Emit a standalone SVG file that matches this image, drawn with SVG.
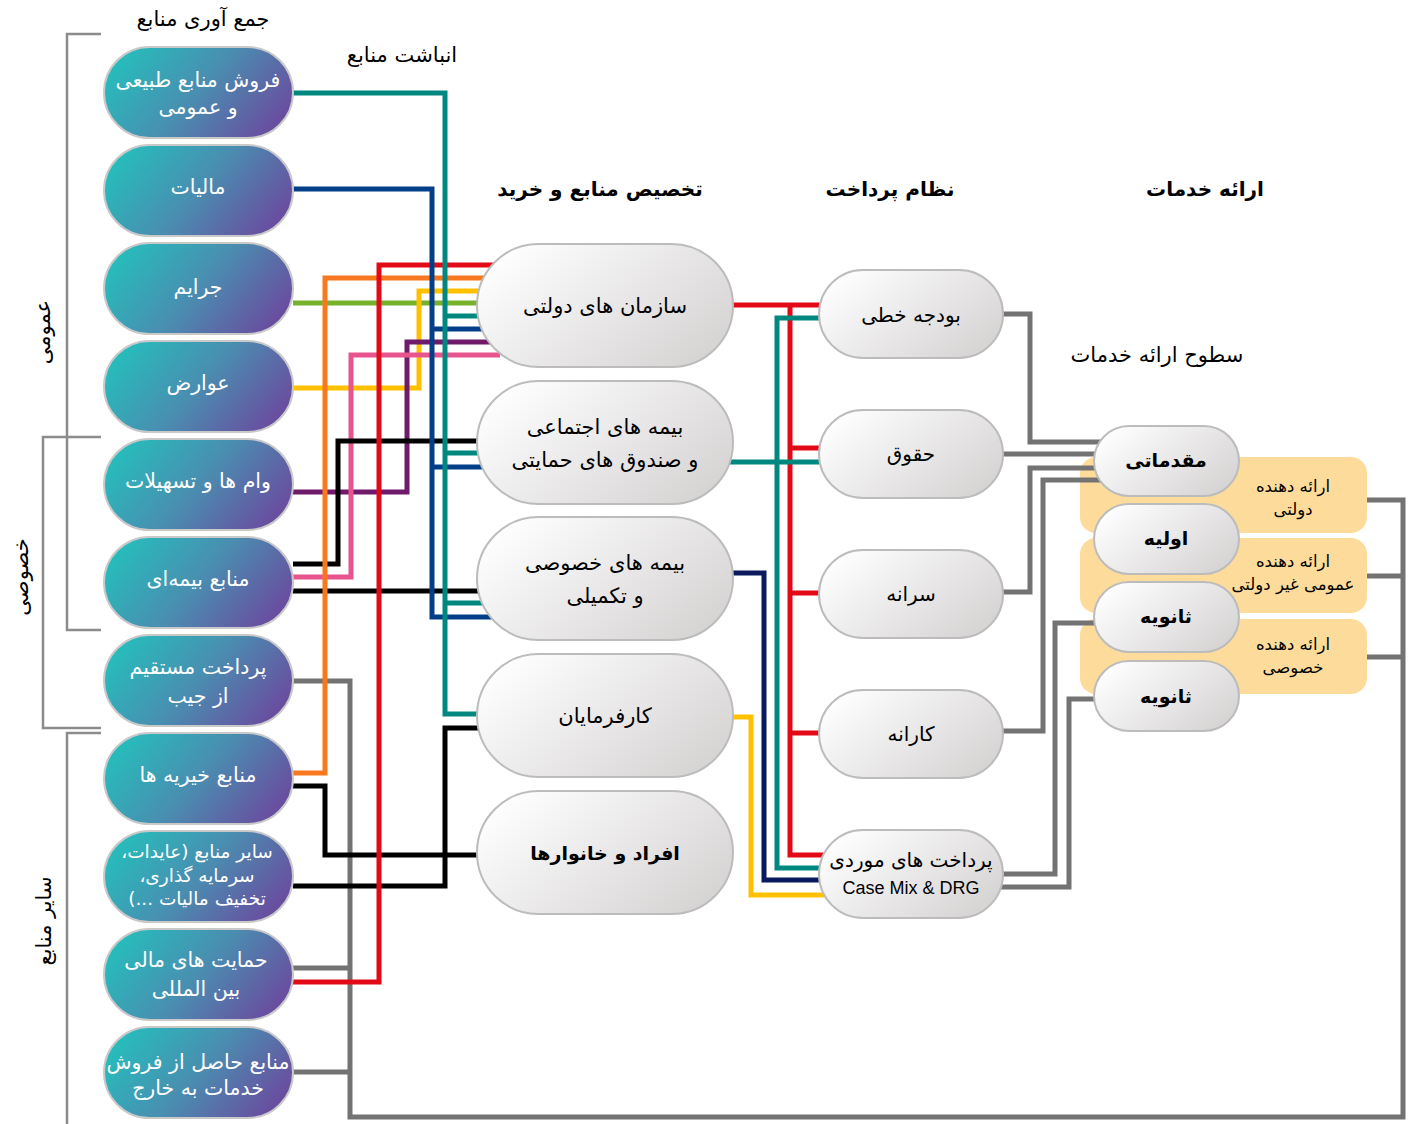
<svg xmlns="http://www.w3.org/2000/svg" width="1411" height="1124" viewBox="0 0 1411 1124">
<defs>
<linearGradient id="gSrc" x1="0" y1="0.3" x2="1" y2="0.7">
<stop offset="0" stop-color="#26bdbc"/>
<stop offset="0.5" stop-color="#4a8db0"/>
<stop offset="1" stop-color="#6b4a9f"/>
</linearGradient>
<linearGradient id="gGrey" x1="0" y1="0.2" x2="1" y2="0.8">
<stop offset="0" stop-color="#ffffff"/>
<stop offset="1" stop-color="#d5d2d2"/>
</linearGradient>
<style>
.src rect{fill:url(#gSrc);stroke:#c9c9c9;stroke-width:2}
.gn rect{fill:url(#gGrey);stroke:#bcbcbc;stroke-width:2}
.yb rect{fill:#fddc9b}
.fa{font-family:"DejaVu Sans","Noto Sans",sans-serif;direction:rtl;text-anchor:middle}
.w{fill:#ffffff;font-size:20.5px}
.ws{fill:#ffffff;font-size:18.5px}
.b{fill:#000000;font-size:21px}
.bb{fill:#000000;font-size:19px;font-weight:bold}
.bp{fill:#000000;font-size:20px}
.hd{fill:#000000;font-size:20px;font-weight:bold}
.ti{fill:#000000;font-size:21px}
.sm{fill:#000000;font-size:16.5px}
.lv{fill:#000000;font-size:19px;font-weight:bold}
.en{font-family:"Liberation Sans",Arial,sans-serif;font-size:18px;fill:#000;text-anchor:middle}
.br{fill:none;stroke:#8c8c8c;stroke-width:2.5}
.c{fill:none;stroke-width:5;stroke-linejoin:miter;stroke-linecap:butt}
.teal{stroke:#00877f}.blue{stroke:#023f88}.green{stroke:#76b22b}.yel{stroke:#ffc000}
.pur{stroke:#6f1a6a}.pink{stroke:#e8558e}.blk{stroke:#000000}.org{stroke:#f7781f}
.red{stroke:#e30a17}.navy{stroke:#0b1a5e}.gry{stroke:#737373}
</style>
</defs>

<!-- titles and brackets -->
<g id="titles">
<text class="fa ti" x="203" y="26">جمع آوری منابع</text>
<text class="fa ti" x="402" y="62">انباشت منابع</text>
<text class="fa hd" x="600" y="196">تخصیص منابع و خرید</text>
<text class="fa hd" x="890" y="196">نظام پرداخت</text>
<text class="fa hd" x="1205" y="196">ارائه خدمات</text>
<text class="fa ti" x="1157" y="362">سطوح ارائه خدمات</text>
<path class="br" d="M101,34 H67 V630 H101"/>
<path class="br" d="M101,437 H43 V728 H101"/>
<path class="br" d="M101,733 H67 V1124"/>
<text class="fa ti" transform="translate(50,332) rotate(-90)">عمومی</text>
<text class="fa ti" transform="translate(28,577) rotate(-90)">خصوصی</text>
<text class="fa ti" transform="translate(51,921) rotate(-90)">سایر منابع</text>
</g>

<!-- provider boxes -->
<g id="prov-gov" class="yb"><rect x="1080" y="457" width="287" height="76" rx="16"/>
<text class="fa sm" x="1293" y="492">ارائه دهنده</text><text class="fa sm" x="1293" y="515">دولتی</text></g>
<g id="prov-public" class="yb"><rect x="1080" y="538" width="287" height="75" rx="16"/>
<text class="fa sm" x="1293" y="567">ارائه دهنده</text><text class="fa sm" x="1293" y="590">عمومی غیر دولتی</text></g>
<g id="prov-private" class="yb"><rect x="1080" y="619" width="287" height="75" rx="16"/>
<text class="fa sm" x="1293" y="650">ارائه دهنده</text><text class="fa sm" x="1293" y="673">خصوصی</text></g>

<!-- connectors -->
<g id="connectors">
<path class="c gry" d="M293,681 H350 V1117 H1403 V500 H1367"/>
<path class="c gry" d="M293,968 H350"/>
<path class="c gry" d="M293,1072 H350"/>
<path class="c gry" d="M1367,576 H1403"/>
<path class="c gry" d="M1367,657 H1403"/>
<path class="c green" d="M293,303 H500"/>
<path class="c yel" d="M293,388 H419 V291 H500"/>
<path class="c pur" d="M293,492 H407 V342 H500"/>
<path class="c pink" d="M293,577 H351 V355 H500"/>
<path class="c blk" d="M293,564 H338 V441 H500"/>
<path class="c blk" d="M293,591 H500"/>
<path class="c org" d="M293,773 H325 V278 H500"/>
<path class="c blk" d="M293,786 H325 V855 H500"/>
<path class="c blk" d="M293,886 H445 V728 H500"/>
<path class="c red" d="M293,982 H379 V265 H500"/>
<path class="c blue" d="M293,189 H432 V617 H500 M432,329 H500 M432,467 H500"/>
<path class="c teal" d="M293,93 H445 V714 H500 M445,316 H500 M445,453 H500 M445,603 H500"/>
<path class="c red" d="M720,305 H830 M790,305 V855 H830 M790,448 H830 M790,593 H830 M790,733 H830"/>
<path class="c teal" d="M720,462 H830 M830,318 H777 V868 H830"/>
<path class="c navy" d="M720,573 H764 V880 H830"/>
<path class="c yel" d="M720,717 H751 V895 H830"/>
<path class="c gry" d="M990,314 H1030 V442 H1110"/>
<path class="c gry" d="M990,454 H1110"/>
<path class="c gry" d="M990,592 H1030 V468 H1110"/>
<path class="c gry" d="M990,731 H1043 V480 H1110"/>
<path class="c gry" d="M990,874 H1055 V623 H1110"/>
<path class="c gry" d="M990,887 H1069 V699 H1110"/>
</g>

<!-- source nodes -->
<g id="src-natural" class="src"><rect x="104" y="47" width="189" height="91" rx="45.5"/>
<text class="fa w" x="198" y="87">فروش منابع طبیعی</text><text class="fa w" x="198" y="114">و عمومی</text></g>
<g id="src-tax" class="src"><rect x="104" y="145" width="189" height="91" rx="45.5"/>
<text class="fa w" x="198" y="194">مالیات</text></g>
<g id="src-fines" class="src"><rect x="104" y="243" width="189" height="91" rx="45.5"/>
<text class="fa w" x="198" y="294">جرایم</text></g>
<g id="src-duties" class="src"><rect x="104" y="341" width="189" height="91" rx="45.5"/>
<text class="fa w" x="198" y="390">عوارض</text></g>
<g id="src-loans" class="src"><rect x="104" y="439" width="189" height="91" rx="45.5"/>
<text class="fa w" x="198" y="488">وام ها و تسهیلات</text></g>
<g id="src-insurance" class="src"><rect x="104" y="537" width="189" height="91" rx="45.5"/>
<text class="fa w" x="198" y="586">منابع بیمه‌ای</text></g>
<g id="src-oop" class="src"><rect x="104" y="635" width="189" height="91" rx="45.5"/>
<text class="fa w" x="198" y="674">پرداخت مستقیم</text><text class="fa w" x="198" y="703">از جیب</text></g>
<g id="src-charity" class="src"><rect x="104" y="733" width="189" height="91" rx="45.5"/>
<text class="fa w" x="198" y="782">منابع خیریه ها</text></g>
<g id="src-other" class="src"><rect x="104" y="831" width="189" height="91" rx="45.5"/>
<text class="fa ws" x="197" y="858">سایر منابع (عایدات،</text><text class="fa ws" x="197" y="882">سرمایه گذاری،</text><text class="fa ws" x="197" y="905">تخفیف مالیات ...)</text></g>
<g id="src-intl" class="src"><rect x="104" y="929" width="189" height="91" rx="45.5"/>
<text class="fa w" x="196" y="967">حمایت های مالی</text><text class="fa w" x="196" y="996">بین المللی</text></g>
<g id="src-export" class="src"><rect x="104" y="1027" width="189" height="91" rx="45.5"/>
<text class="fa w" x="198" y="1069">منابع حاصل از فروش</text><text class="fa w" x="198" y="1095">خدمات به خارج</text></g>

<!-- purchasing nodes -->
<g id="pur-gov" class="gn"><rect x="477" y="244" width="256" height="123" rx="61.5"/>
<text class="fa b" x="605" y="313">سازمان های دولتی</text></g>
<g id="pur-social" class="gn"><rect x="477" y="381" width="256" height="123" rx="61.5"/>
<text class="fa b" x="605" y="434">بیمه های اجتماعی</text><text class="fa b" x="605" y="467">و صندوق های حمایتی</text></g>
<g id="pur-private" class="gn"><rect x="477" y="517" width="256" height="123" rx="61.5"/>
<text class="fa b" x="605" y="570">بیمه های خصوصی</text><text class="fa b" x="605" y="603">و تکمیلی</text></g>
<g id="pur-employers" class="gn"><rect x="477" y="654" width="256" height="123" rx="61.5"/>
<text class="fa b" x="605" y="723">کارفرمایان</text></g>
<g id="pur-households" class="gn"><rect x="477" y="791" width="256" height="123" rx="61.5"/>
<text class="fa bb" x="605" y="860">افراد و خانوارها</text></g>

<!-- payment nodes -->
<g id="pay-line" class="gn"><rect x="819" y="270" width="184" height="88" rx="44"/>
<text class="fa bp" x="911" y="322">بودجه خطی</text></g>
<g id="pay-salary" class="gn"><rect x="819" y="410" width="184" height="88" rx="44"/>
<text class="fa bp" x="911" y="461">حقوق</text></g>
<g id="pay-capitation" class="gn"><rect x="819" y="550" width="184" height="88" rx="44"/>
<text class="fa bp" x="911" y="601">سرانه</text></g>
<g id="pay-ffs" class="gn"><rect x="819" y="690" width="184" height="88" rx="44"/>
<text class="fa bp" x="911" y="741">کارانه</text></g>
<g id="pay-case" class="gn"><rect x="819" y="830" width="184" height="88" rx="44"/>
<text class="fa bp" x="911" y="867">پرداخت های موردی</text><text class="en" x="911" y="894">Case Mix &amp; DRG</text></g>

<!-- service level nodes -->
<g id="lvl-pre" class="gn"><rect x="1094" y="426" width="145" height="70" rx="35"/>
<text class="fa lv" x="1166" y="467">مقدماتی</text></g>
<g id="lvl-primary" class="gn"><rect x="1094" y="504" width="145" height="70" rx="35"/>
<text class="fa lv" x="1166" y="545">اولیه</text></g>
<g id="lvl-secondary1" class="gn"><rect x="1094" y="582" width="145" height="70" rx="35"/>
<text class="fa lv" x="1166" y="623">ثانویه</text></g>
<g id="lvl-secondary2" class="gn"><rect x="1094" y="661" width="145" height="70" rx="35"/>
<text class="fa lv" x="1166" y="703">ثانویه</text></g>
</svg>
